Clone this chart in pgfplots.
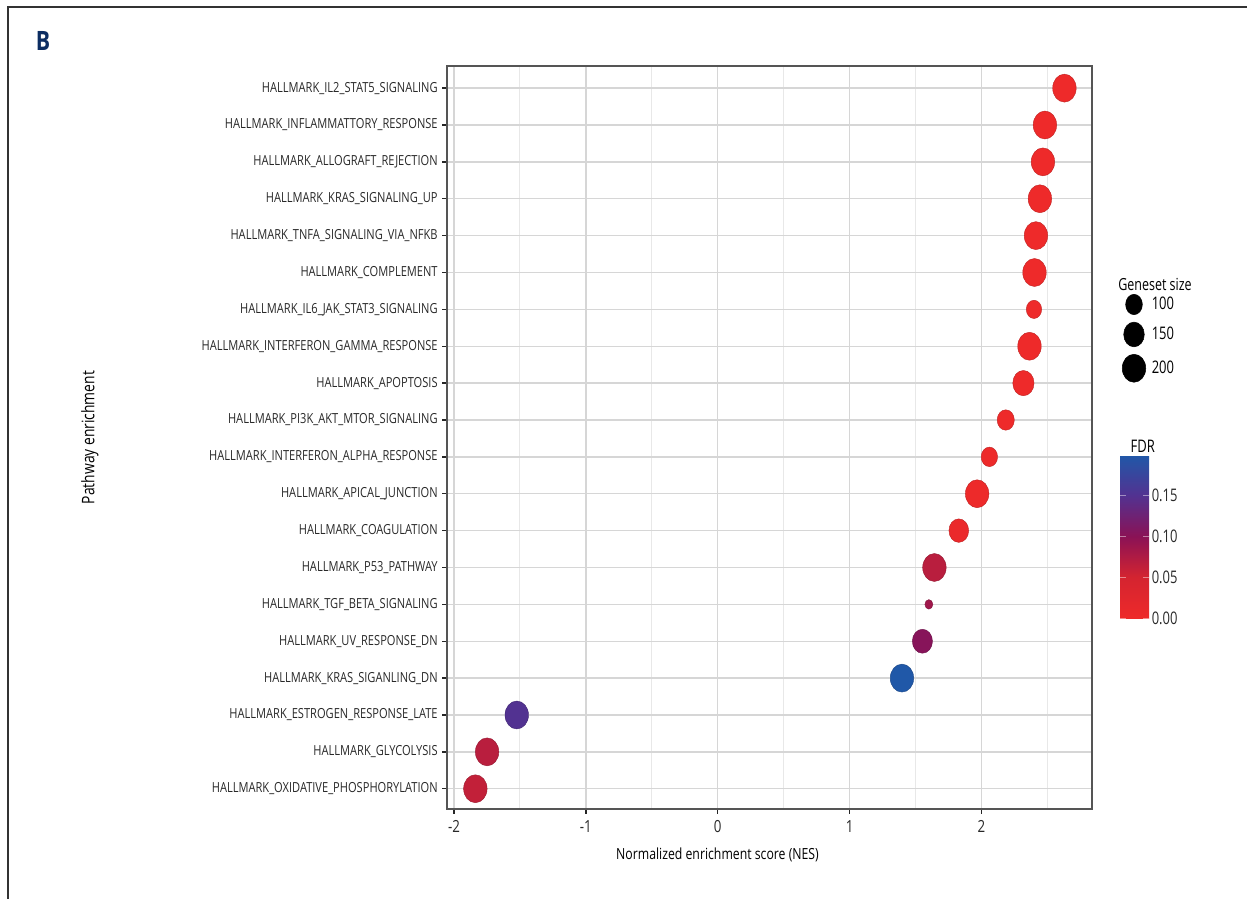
\documentclass[border=0pt]{standalone}
\usepackage{fontspec}
\setmainfont{Open Sans}[FakeStretch=0.8]
\newfontfamily\condfont{Open Sans}[FakeStretch=0.75]
\usepackage{pgfplots}
\usepackage{pgfplotstable}
\pgfplotsset{compat=1.18}
\definecolor{navyB}{RGB}{12,45,98}
\definecolor{gridc}{RGB}{214,214,214}
\definecolor{gridm}{RGB}{232,232,232}
\definecolor{axc}{RGB}{85,85,85}
\definecolor{txt}{RGB}{40,40,40}
\pgfplotsset{colormap={fdr}{rgb255(0cm)=(238,42,42) rgb255(5cm)=(212,36,48) rgb255(10cm)=(138,18,86) rgb255(15cm)=(82,50,145) rgb255(19.9cm)=(32,88,168)}}

\pgfplotstableread{
idx nes gs fdr
0 2.629 200 0.000
1 2.481 200 0.000
2 2.466 200 0.000
3 2.443 200 0.000
4 2.413 200 0.000
5 2.402 200 0.000
6 2.398 87 0.000
7 2.364 200 0.000
8 2.318 161 0.000
9 2.184 105 0.000
10 2.060 97 0.002
11 1.967 200 0.002
12 1.828 138 0.005
13 1.643 200 0.068
14 1.601 54 0.085
15 1.552 144 0.103
16 1.397 200 0.199
17 -1.524 200 0.150
18 -1.749 200 0.068
19 -1.838 200 0.062
}\datatable

\begin{document}
\begin{tikzpicture}
\begin{axis}[
  at={(335.25pt,-606.75pt)}, anchor=south west,
  scale only axis, width=483.75pt, height=557.25pt,
  xmin=-2.053, xmax=2.838,
  ymin=-0.6, ymax=19.55, y dir=reverse,
  xtick={-2,-1,0,1,2}, xticklabels={-2,-1,0,1,2},
  minor xtick={-1.5,-0.5,0.5,1.5,2.5},
  ytick={0,...,19},
  yticklabels={HALLMARK\_IL2\_STAT5\_SIGNALING,
    HALLMARK\_INFLAMMATTORY\_RESPONSE,
    HALLMARK\_ALLOGRAFT\_REJECTION,
    HALLMARK\_KRAS\_SIGNALING\_UP,
    HALLMARK\_TNFA\_SIGNALING\_VIA\_NFKB,
    HALLMARK\_COMPLEMENT,
    HALLMARK\_IL6\_JAK\_STAT3\_SIGNALING,
    HALLMARK\_INTERFERON\_GAMMA\_RESPONSE,
    HALLMARK\_APOPTOSIS,
    HALLMARK\_PI3K\_AKT\_MTOR\_SIGNALING,
    HALLMARK\_INTERFERON\_ALPHA\_RESPONSE,
    HALLMARK\_APICAL\_JUNCTION,
    HALLMARK\_COAGULATION,
    HALLMARK\_P53\_PATHWAY,
    HALLMARK\_TGF\_BETA\_SIGNALING,
    HALLMARK\_UV\_RESPONSE\_DN,
    HALLMARK\_KRAS\_SIGANLING\_DN,
    HALLMARK\_ESTROGEN\_RESPONSE\_LATE,
    HALLMARK\_GLYCOLYSIS,
    HALLMARK\_OXIDATIVE\_PHOSPHORYLATION},
  grid=both,
  major grid style={gridc, line width=1.1pt},
  minor grid style={gridm, line width=0.8pt},
  axis line style={axc, line width=1.1pt},
  tick align=outside, tick pos=left,
  major tick length=3.5pt, minor tick length=0pt,
  major tick style={black!85, line width=1.1pt},
  yticklabel style={font=\fontsize{10.4}{11}\selectfont, text=txt},
  xticklabel style={font=\fontsize{12.5}{13}\selectfont, text=txt, yshift=-1.5pt},
  xlabel={Normalized enrichment score (NES)},
  ylabel={Pathway enrichment},
  xlabel style={at={(axis description cs:0.4194,-0.0619)}, anchor=center, font=\fontsize{11.5}{13}\selectfont, text=black},
  ylabel style={at={(axis description cs:-0.5535,0.5)}, anchor=center, font=\fontsize{13}{14}\selectfont, text=black},
  colormap name=fdr,
  point meta min=0, point meta max=0.199,
  colorbar,
  colorbar/width=21.75pt,
  colorbar style={
    at={(parent axis.north east)}, anchor=north west,
    xshift=12.5pt, yshift=-291.75pt,
    scale only axis, width=21.75pt, height=122.5pt,
    y dir=normal, grid=none,
    ytick={0,0.05,0.1,0.15}, yticklabels={0.00,0.05,0.10,0.15},
    yticklabel pos=right, ytick pos=both,
    axis line style={draw=none},
    tick align=inside, major tick length=4.5pt,
    major tick style={white, opacity=0.45, line width=0.8pt},
    yticklabel style={font=\condfont\fontsize{13}{14}\selectfont, text=txt, xshift=-1.5pt},
  },
  legend style={at={(1.0465,0.6931)}, anchor=north west, draw=none, fill=none,
    inner sep=0pt, font=\condfont\fontsize{13}{14}\selectfont, row sep=5.6pt,
    /tikz/every odd column/.style={column sep=2.5pt}},
  legend cell align=left,
  legend image code/.code={\draw[#1] plot coordinates {(0pt,0pt)};},
]
\addplot[scatter, only marks, mark=*, forget plot,
  point meta=explicit,
  visualization depends on={0.375*(7.975+15.525*sqrt((\thisrow{gs}-54)/146)) \as \msz},
  scatter/@pre marker code/.append style={/tikz/mark size=\msz},
  mark options={yscale=1.19, line width=0.3pt}]
  table[x=nes, y=idx, meta=fdr] {\datatable};
\addlegendimage{only marks, mark=*, black, mark size=6.26pt, mark options={yscale=1.22}}
\addlegendentry{100}
\addlegendimage{only marks, mark=*, black, mark size=7.71pt, mark options={yscale=1.2}}
\addlegendentry{150}
\addlegendimage{only marks, mark=*, black, mark size=8.81pt, mark options={yscale=1.19}}
\addlegendentry{200}
\end{axis}
\node[anchor=west, font=\condfont\fontsize{12.5}{13}\selectfont, text=black, inner sep=0pt] at (838.5pt,-213pt) {Geneset size};
\node[anchor=center, font=\condfont\fontsize{13}{14}\selectfont, text=black, inner sep=0pt] at (857pt,-334.5pt) {FDR};
\node[anchor=center, font=\bfseries\fontsize{20}{22}\selectfont, text=navyB, inner sep=0pt] at (32.25pt,-30.75pt) {B};
\draw[black!80, line width=1.1pt] (6pt,-674.25pt) -- (6pt,-5.25pt) -- (935.25pt,-5.25pt);
\pgfresetboundingbox
\path[use as bounding box] (0,0) rectangle (935.25pt,-674.25pt);
\end{tikzpicture}
\end{document}
